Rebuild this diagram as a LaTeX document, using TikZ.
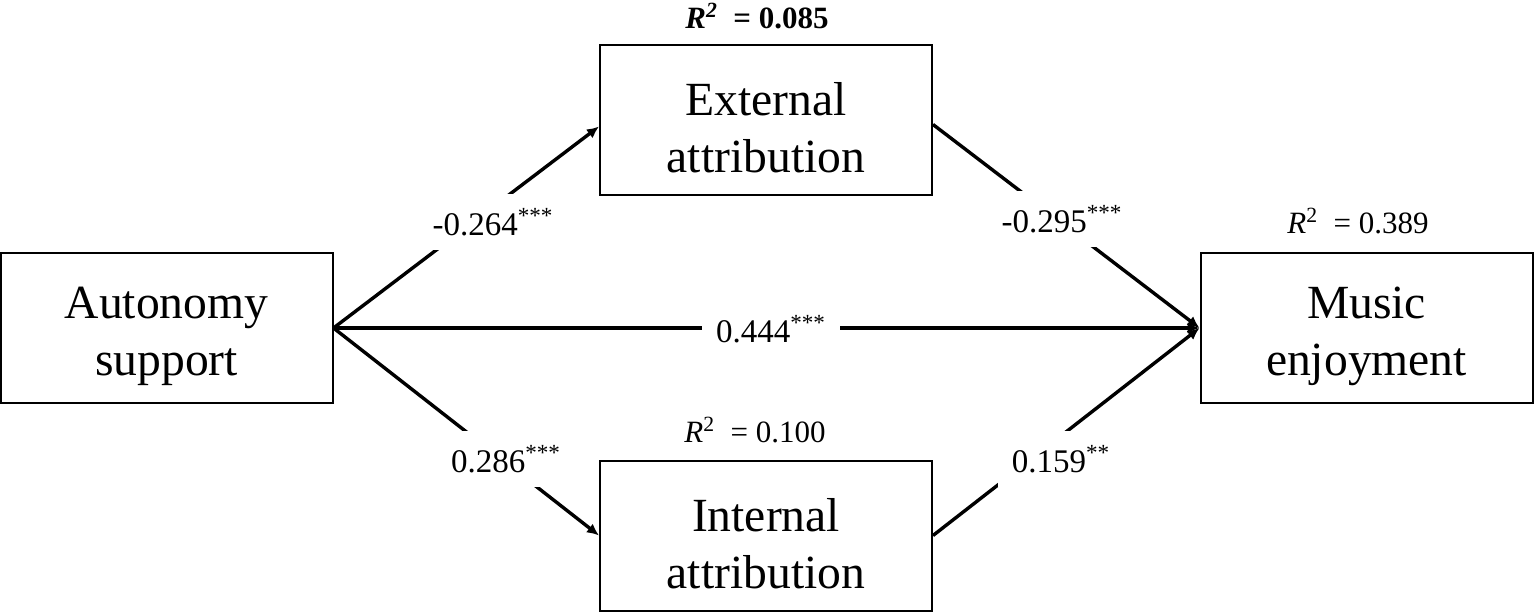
\documentclass[tikz,border=0pt]{standalone}
\usepackage{fontspec}
\setmainfont{Liberation Serif}
\usetikzlibrary{arrows.meta,calc}
\begin{document}
\begin{tikzpicture}[x=0.5pt,y=-0.5pt,
  varbox/.style={draw,line width=1pt,minimum width=166pt,minimum height=75pt,inner sep=0pt},
  boxtext/.style={inner sep=0pt,align=center,font=\fontsize{23.8}{28.5}\selectfont},
  path/.style={line width=1.7pt,-{Latex[length=6pt,width=5.5pt]}},
  coef/.style={fill=white,inner sep=7pt,font=\fontsize{16.5}{19}\selectfont},
  rsq/.style={inner sep=0pt,font=\fontsize{15.5}{18}\selectfont}]
\useasboundingbox (0,0) rectangle (1535,611);
\node[varbox] (aut) at (166.5,328) {};
\node[varbox] (ext) at (766,119.5) {};
\node[varbox] (int) at (766,535.5) {};
\node[varbox] (mus) at (1366.5,328) {};
\node[boxtext] (autt) at ($(aut)+(0,8)$) {Autonomy\\support};
\node[boxtext] (extt) at ($(ext)+(0,8)$) {External\\attribution};
\node[boxtext] (intt) at ($(int)+(0,8)$) {Internal\\attribution};
\node[boxtext] (must) at ($(mus)+(0,8)$) {Music\\enjoyment};
\draw[path] (aut.east) -- ($(ext.west)+(0,7)$);
\draw[path] (aut.east) -- (int.west);
\draw[path] ($(ext.east)+(0,5)$) -- (mus.west);
\draw[path] (int.east) -- (mus.west);
\draw[path] (aut.east) -- (mus.west);
\node[coef] (c1) at (493,222) {-0.264\textsuperscript{***}};
\node[coef] (c2) at (506,459) {0.286\textsuperscript{***}};
\node[coef] (c3) at (1062,219) {-0.295\textsuperscript{***}};
\node[coef] (c4) at (1061,459) {0.159\textsuperscript{**}};
\node[coef] (c5) at (771,329) {0.444\textsuperscript{***}};
\node[rsq] (r1) at (757,16) {\bfseries\itshape R\textsuperscript{2}\upshape\ ~= 0.085};
\node[rsq] (r2) at (1358,221) {\textit{R}\textsuperscript{2}\ ~= 0.389};
\node[rsq] (r3) at (755,430) {\textit{R}\textsuperscript{2}\ ~= 0.100};
\end{tikzpicture}
\end{document}
